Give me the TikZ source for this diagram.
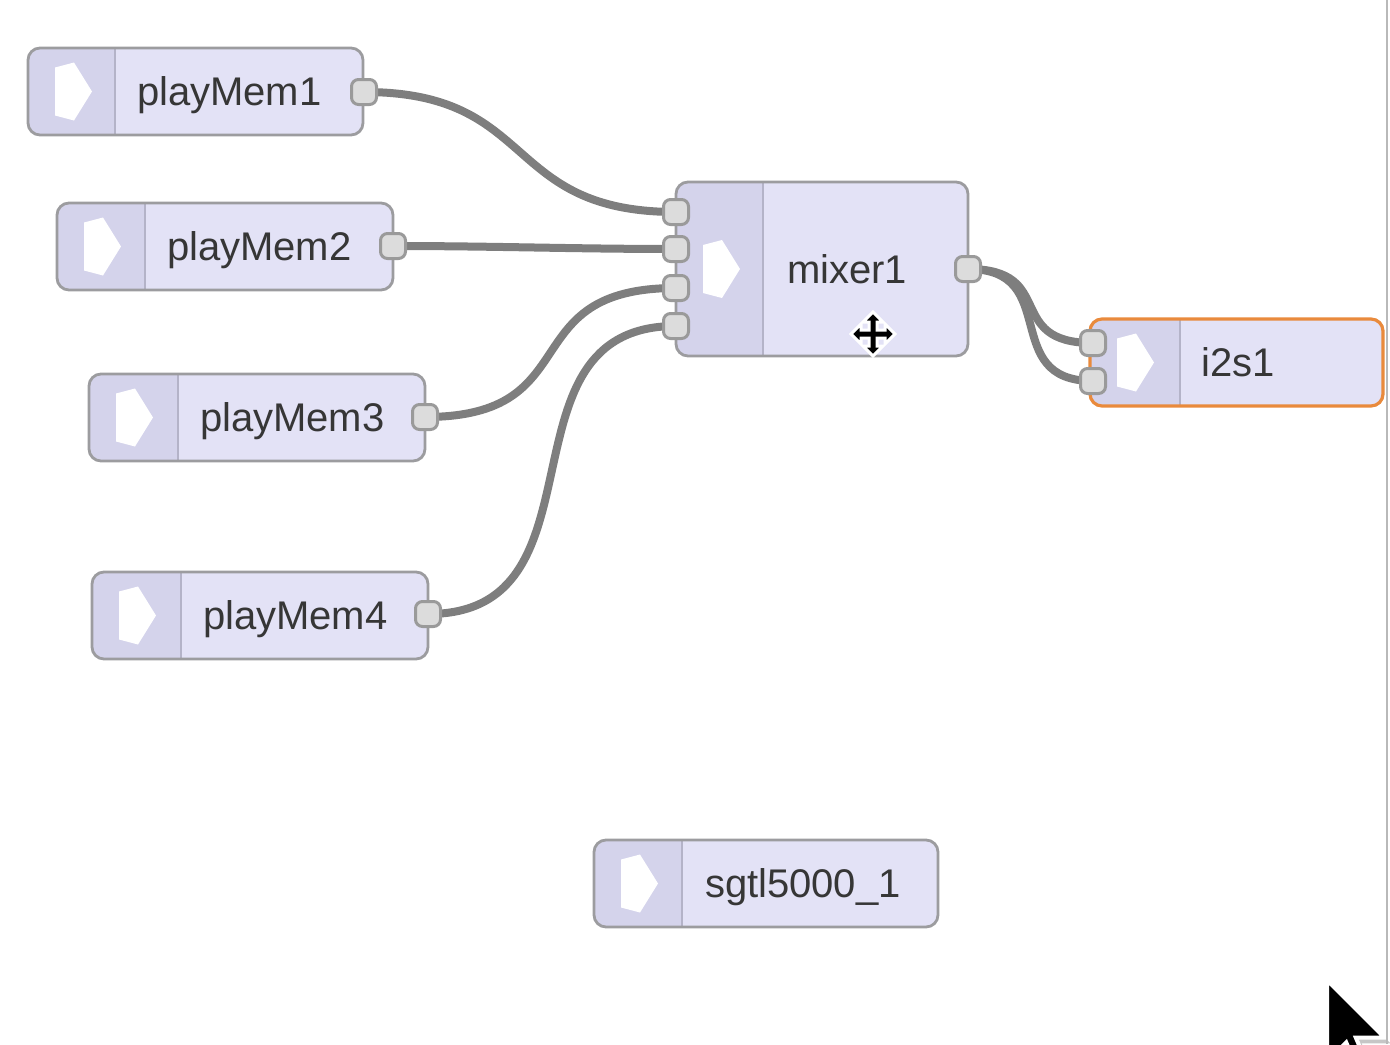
\documentclass[tikz,border=0pt]{standalone}
\usepackage{fontspec}
\setmainfont{Liberation Sans}
\usetikzlibrary{calc}
\pgfdeclarelayer{back}
\pgfdeclarelayer{wirelayer}
\pgfsetlayers{back,wirelayer,main}
\definecolor{nodefill}{HTML}{E3E2F6}
\definecolor{leftfill}{HTML}{D4D3EB}
\definecolor{bordc}{HTML}{9C9C9F}
\definecolor{divc}{HTML}{B4B3C8}
\definecolor{portf}{HTML}{DCDCDC}
\definecolor{portb}{HTML}{9A9A9A}
\definecolor{wirec}{HTML}{7E7E7E}
\definecolor{txtc}{HTML}{363636}
\definecolor{selc}{HTML}{E98A3C}
\begin{document}
\begin{tikzpicture}[x=0.5pt,y=-0.5pt,
  blk/.style={rectangle, draw=bordc, line width=1.4pt, fill=nodefill,
    rounded corners=6pt, inner sep=0pt,
    path picture={
      \fill[leftfill, sharp corners] (path picture bounding box.north west) rectangle ([xshift=#1]path picture bounding box.south west);
      \draw[divc, line width=0.7pt, sharp corners] ([xshift=#1]path picture bounding box.north west) -- ([xshift=#1]path picture bounding box.south west);
      \fill[white, sharp corners] ($(path picture bounding box.west)+(27,-24)$) -- ($(path picture bounding box.west)+(46,-29)$)
        -- ($(path picture bounding box.west)+(64,0)$) -- ($(path picture bounding box.west)+(46,29)$)
        -- ($(path picture bounding box.west)+(27,24)$) -- cycle;
    }},
  lbl/.style={anchor=base west, inner sep=0pt, text=txtc, font=\fontsize{20pt}{24pt}\selectfont},
  port/.style={rectangle, draw=portb, fill=portf, line width=1.5pt, rounded corners=3.5pt,
    minimum size=12.5pt, inner sep=0pt},
  wire/.style={draw=wirec, line width=4pt}
]
\useasboundingbox (0,0) rectangle (1390,1044);
\clip (0,0) rectangle (1390,1044);

\begin{pgfonlayer}{back}
\node[blk=43.5pt, minimum width=167.5pt, minimum height=43.5pt] (pm1) at (195.5,91.5) {};
\node[blk=44pt, minimum width=168pt, minimum height=43.5pt] (pm2) at (225,246.5) {};
\node[blk=44.5pt, minimum width=168pt, minimum height=43.5pt] (pm3) at (257,417.5) {};
\node[blk=44.5pt, minimum width=168pt, minimum height=43.5pt] (pm4) at (260,615.5) {};
\node[blk=43.5pt, minimum width=146pt, minimum height=87pt] (mix) at (822,269) {};
\node[blk=45pt, minimum width=146.5pt, minimum height=43.5pt, draw=selc, line width=1.6pt] (i2s) at (1236.5,362.5) {};
\node[blk=44pt, minimum width=172pt, minimum height=43.5pt] (sgtl) at (766,883.5) {};
\end{pgfonlayer}

\node[lbl] at ([xshift=55pt,yshift=-7pt]pm1.west) {playMem1};
\node[lbl] at ([xshift=55.5pt,yshift=-7pt]pm2.west) {playMem2};
\node[lbl] at ([xshift=56pt,yshift=-7pt]pm3.west) {playMem3};
\node[lbl] at ([xshift=56pt,yshift=-7pt]pm4.west) {playMem4};
\node[lbl] at ([xshift=56pt,yshift=-7pt]mix.west) {mixer1};
\node[lbl] at ([xshift=56.5pt,yshift=-7pt]i2s.west) {i2s1};
\node[lbl] at ([xshift=56pt,yshift=-7pt]sgtl.west) {sgtl5000\_1};

% ports
\node[port] (pm1o) at (364,92) {};
\node[port] (pm2o) at (393,246) {};
\node[port] (pm3o) at (425,417) {};
\node[port] (pm4o) at (428,614) {};
\node[port] (mi1) at (676,212) {};
\node[port] (mi2) at (676,249) {};
\node[port] (mi3) at (676,288) {};
\node[port] (mi4) at (676,326) {};
\node[port] (mo) at (968,269) {};
\node[port] (ii1) at (1093,343) {};
\node[port] (ii2) at (1093,381) {};

\begin{pgfonlayer}{wirelayer}
\draw[wire] (pm1o.center) .. controls +(175,0) and +(-175,0) .. (mi1.center);
\draw[wire] (pm2o.center) .. controls +(100,0) and +(-100,0) .. (mi2.center);
\draw[wire] (pm3o.center) .. controls +(165,0) and +(-165,0) .. (mi3.center);
\draw[wire] (pm4o.center) .. controls +(185,0) and +(-185,0) .. (mi4.center);
\draw[wire] (mo.center) .. controls +(90,0) and +(-90,0) .. (ii1.center);
\draw[wire] (mo.center) .. controls +(95,0) and +(-95,0) .. (ii2.center);
\end{pgfonlayer}

% move cursor
\draw[fill=black, draw=white, line width=1.5pt, line join=miter, shift={(873,334)}]
  (0,-22) -- (10,-12) -- (4,-12) -- (4,-4) -- (12,-4) -- (12,-10) -- (22,0) -- (12,10) -- (12,4)
  -- (4,4) -- (4,12) -- (10,12) -- (0,22) -- (-10,12) -- (-4,12) -- (-4,4) -- (-12,4) -- (-12,10)
  -- (-22,0) -- (-12,-10) -- (-12,-4) -- (-4,-4) -- (-4,-12) -- (-10,-12) -- cycle;

% mouse pointer
\begin{scope}[shift={(1327,980)}, scale=4.8]
\fill[gray!45] (1.2,1.2) -- (1.2,18.2) -- (5.2,14.2) -- (8.2,21.2) -- (10.2,20.2) -- (7.2,13.2) -- (13.2,13.2) -- cycle;
\draw[fill=black, draw=white, line width=2pt, line join=miter]
  (0,0) -- (0,17) -- (4,13) -- (7,20) -- (9,19) -- (6,12) -- (12,12) -- cycle;
\end{scope}

% right edge
\draw[gray!55, line width=1pt] (1387,0) -- (1387,1044);
\end{tikzpicture}
\end{document}
